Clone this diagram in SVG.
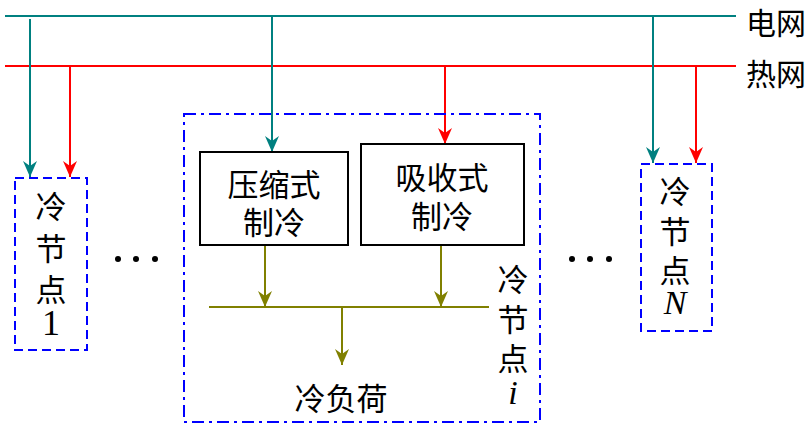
<svg xmlns="http://www.w3.org/2000/svg" width="808" height="426" viewBox="0 0 808 426">
<style>
.cn{font-family:"Noto Sans CJK SC","Noto Sans",sans-serif;font-size:31px;fill:#000;text-anchor:middle;dominant-baseline:central}
.lt{font-family:"Liberation Serif",serif;font-size:36px}
.it{font-style:italic;font-size:34px}
.teal{stroke:#008080;stroke-width:2;fill:none}
.red{stroke:#FF0000;stroke-width:2;fill:none}
.olive{stroke:#808000;stroke-width:2;fill:none}
.dash{stroke:#0000FF;stroke-width:2;fill:none;stroke-dasharray:9,5}
.dashdot{stroke:#0000FF;stroke-width:2;fill:none;stroke-dasharray:12,5,3,5}
.box{stroke:#000;stroke-width:2;fill:#fff}
</style>
<defs>
<marker id="aT" viewBox="0 0 14 16" refX="7" refY="16" markerWidth="14" markerHeight="16" markerUnits="userSpaceOnUse"><path d="M0,0 L7,5 L14,0 L7,16 Z" fill="#008080"/></marker>
<marker id="aR" viewBox="0 0 14 16" refX="7" refY="16" markerWidth="14" markerHeight="16" markerUnits="userSpaceOnUse"><path d="M0,0 L7,5 L14,0 L7,16 Z" fill="#FF0000"/></marker>
<marker id="aO" viewBox="0 0 14 16" refX="7" refY="16" markerWidth="14" markerHeight="16" markerUnits="userSpaceOnUse"><path d="M0,0 L7,5 L14,0 L7,16 Z" fill="#808000"/></marker>
</defs>
<g id="connectors">
<line class="teal" x1="5" y1="16" x2="736" y2="16"/>
<line class="red" x1="5" y1="66" x2="736" y2="66"/>
<path class="teal" d="M30,19 V177" marker-end="url(#aT)"/>
<path class="red" d="M70,66 V177" marker-end="url(#aR)"/>
<path class="teal" d="M272,16 V152" marker-end="url(#aT)"/>
<path class="red" d="M445,66 V144" marker-end="url(#aR)"/>
<path class="teal" d="M653,16 V163" marker-end="url(#aT)"/>
<path class="red" d="M696,66 V163" marker-end="url(#aR)"/>
<path class="olive" d="M265,245 V307" marker-end="url(#aO)"/>
<path class="olive" d="M441,245 V307" marker-end="url(#aO)"/>
<line class="olive" x1="209" y1="307" x2="489" y2="307"/>
<path class="olive" d="M342,307 V365" marker-end="url(#aO)"/>
</g>
<g id="grid-labels">
<text class="cn" x="776" y="21" style="font-size:30px">电网</text>
<text class="cn" x="776" y="72" style="font-size:30px">热网</text>
</g>
<g id="node1">
<rect class="dash" x="15" y="178" width="72" height="172"/>
<text class="cn"><tspan x="51" y="204">冷</tspan><tspan x="51" y="246">节</tspan><tspan x="51" y="287">点</tspan><tspan class="lt" x="51" y="323">1</tspan></text>
</g>
<g id="dots1">
<circle cx="118" cy="259" r="3"/><circle cx="136" cy="259" r="3"/><circle cx="155" cy="259" r="3"/>
</g>
<g id="nodei">
<rect class="dashdot" x="184" y="114" width="356" height="308"/>
<text class="cn"><tspan x="513" y="277">冷</tspan><tspan x="513" y="317">节</tspan><tspan x="513" y="356">点</tspan><tspan class="lt it" x="513" y="392">i</tspan></text>
<text class="cn" x="341" y="396">冷负荷</text>
</g>
<g id="compressor">
<rect class="box" x="200" y="152" width="148" height="93"/>
<text class="cn"><tspan x="274" y="182">压缩式</tspan><tspan x="274" y="220">制冷</tspan></text>
</g>
<g id="absorption">
<rect class="box" x="361" y="144" width="163" height="101"/>
<text class="cn"><tspan x="442" y="175">吸收式</tspan><tspan x="442" y="214">制冷</tspan></text>
</g>
<g id="dots2">
<circle cx="572" cy="259" r="3"/><circle cx="590" cy="259" r="3"/><circle cx="609" cy="259" r="3"/>
</g>
<g id="nodeN">
<rect class="dash" x="641" y="164" width="71" height="167"/>
<text class="cn"><tspan x="675" y="189">冷</tspan><tspan x="675" y="229">节</tspan><tspan x="675" y="268">点</tspan><tspan class="lt it" x="675" y="302">N</tspan></text>
</g>
</svg>
